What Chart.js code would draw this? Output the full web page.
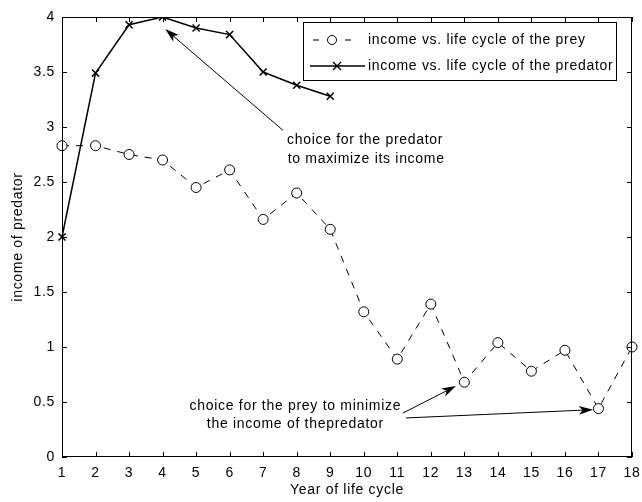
<!DOCTYPE html>
<html>
<head>
<meta charset="utf-8">
<script src="https://cdn.jsdelivr.net/npm/chart.js@4"></script>
<style>
  html, body { margin: 0; padding: 0; background: #fff; }
  #wrap { width: 642px; height: 502px; }
</style>
</head>
<body>
<div id="wrap"><canvas id="chart" width="642" height="502"></canvas></div>
<script>
// data
const years = ['1','2','3','4','5','6','7','8','9','10','11','12','13','14','15','16','17','18'];
const preyIncome = [2.83, 2.83, 2.75, 2.70, 2.45, 2.61, 2.16, 2.40, 2.07, 1.32, 0.89, 1.39, 0.68, 1.04, 0.78, 0.97, 0.44, 1.00];
const predatorIncome = [2.00, 3.49, 3.93, 4.00, 3.90, 3.84, 3.50, 3.38, 3.28];
const yTicks = [0, 0.5, 1, 1.5, 2, 2.5, 3, 3.5, 4];
const legendLabels = ['income vs. life cycle of the prey', 'income vs. life cycle of the predator'];

const FONT = 'Liberation Sans, Arial, Helvetica, sans-serif';
const FS = 14;

// arrow helper
function arrow(ctx, x1, y1, x2, y2, head) {
    const a = Math.atan2(y2 - y1, x2 - x1);
    ctx.beginPath();
    ctx.moveTo(x1, y1);
    ctx.lineTo(x2 - head * 0.5 * Math.cos(a), y2 - head * 0.5 * Math.sin(a));
    ctx.stroke();
    ctx.beginPath();
    ctx.moveTo(x2, y2);
    ctx.lineTo(x2 - head * Math.cos(a - 0.3), y2 - head * Math.sin(a - 0.3));
    ctx.lineTo(x2 - head * 0.7 * Math.cos(a), y2 - head * 0.7 * Math.sin(a));
    ctx.lineTo(x2 - head * Math.cos(a + 0.3), y2 - head * Math.sin(a + 0.3));
    ctx.closePath();
    ctx.fill();
}

// the reference text is slightly spread out
const spacingPlugin = {
    id: 'spacing',
    beforeUpdate(chart) { chart.ctx.letterSpacing = '0.7px'; },
    beforeDraw(chart) { chart.ctx.letterSpacing = '0.7px'; },
};

// axes box, inward ticks, legend and annotations
const decorPlugin = {
    id: 'decor',
    afterDraw(chart) {
        const ctx = chart.ctx;
        const area = chart.chartArea;
        const xs = chart.scales.x;
        const ys = chart.scales.y;
        ctx.save();
        ctx.strokeStyle = '#000';
        ctx.fillStyle = '#000';
        ctx.lineWidth = 1;
        ctx.strokeRect(area.left + 0.5, area.top + 0.5, area.right - area.left - 1, area.bottom - area.top - 1);

        const tl = 5;
        ctx.beginPath();
        years.forEach((_, i) => {
            const px = Math.round(xs.getPixelForValue(i)) + 0.5;
            ctx.moveTo(px, area.bottom); ctx.lineTo(px, area.bottom - tl);
            ctx.moveTo(px, area.top); ctx.lineTo(px, area.top + tl);
        });
        yTicks.forEach(v => {
            const py = Math.round(ys.getPixelForValue(v)) + 0.5;
            ctx.moveTo(area.left, py); ctx.lineTo(area.left + tl, py);
            ctx.moveTo(area.right, py); ctx.lineTo(area.right - tl, py);
        });
        ctx.stroke();

        // legend
        const lx = 303, ly = 22, lw = 313, lh = 58;
        ctx.fillStyle = '#fff';
        ctx.fillRect(lx, ly, lw, lh);
        ctx.strokeRect(lx + 0.5, ly + 0.5, lw, lh);
        ctx.fillStyle = '#000';
        ctx.font = FS + 'px ' + FONT;
        ctx.textBaseline = 'middle';
        ctx.textAlign = 'left';
        const rows = [ly + 18, ly + 44];
        // prey sample
        ctx.beginPath();
        ctx.moveTo(lx + 10, rows[0]); ctx.lineTo(lx + 16, rows[0]);
        ctx.moveTo(lx + 42, rows[0]); ctx.lineTo(lx + 48, rows[0]);
        ctx.stroke();
        ctx.beginPath();
        ctx.arc(lx + 29, rows[0], 4.5, 0, Math.PI * 2);
        ctx.stroke();
        ctx.fillText(legendLabels[0], lx + 65, rows[0]);
        // predator sample
        ctx.lineWidth = 1.3;
        ctx.beginPath();
        ctx.moveTo(lx + 7, rows[1]); ctx.lineTo(lx + 62, rows[1]);
        const cx = lx + 34, r = 4;
        ctx.moveTo(cx - r, rows[1] - r); ctx.lineTo(cx + r, rows[1] + r);
        ctx.moveTo(cx - r, rows[1] + r); ctx.lineTo(cx + r, rows[1] - r);
        ctx.stroke();
        ctx.fillText(legendLabels[1], lx + 65, rows[1]);
        ctx.lineWidth = 1;

        // annotations (positions in data units: category index, income)
        ctx.textAlign = 'left';
        ctx.fillText('choice for the predator', xs.getPixelForValue(6.71), ys.getPixelForValue(2.88));
        ctx.fillText('to maximize its income', xs.getPixelForValue(6.73), ys.getPixelForValue(2.71));
        ctx.textAlign = 'center';
        ctx.fillText('choice for the prey to minimize', xs.getPixelForValue(6.96), ys.getPixelForValue(0.46));
        ctx.fillText('the income of thepredator', xs.getPixelForValue(6.96), ys.getPixelForValue(0.30));

        arrow(ctx, xs.getPixelForValue(6.59), ys.getPixelForValue(2.97),
            xs.getPixelForValue(3.08), ys.getPixelForValue(3.89), 15);
        arrow(ctx, xs.getPixelForValue(10.17), ys.getPixelForValue(0.40),
            xs.getPixelForValue(11.75), ys.getPixelForValue(0.645), 15);
        arrow(ctx, xs.getPixelForValue(10.26), ys.getPixelForValue(0.355),
            xs.getPixelForValue(15.84), ys.getPixelForValue(0.43), 15);
        ctx.restore();
    }
};

const ctx = document.getElementById('chart').getContext('2d');
new Chart(ctx, {
    type: 'line',
    data: {
        labels: years,
        datasets: [
            {
                label: legendLabels[0],
                data: preyIncome,
                borderColor: '#000',
                borderWidth: 1,
                borderDash: [7, 7],
                pointStyle: 'circle',
                pointRadius: 5,
                pointBorderWidth: 1,
                pointBackgroundColor: '#fff',
                pointBorderColor: '#000',
                tension: 0,
            },
            {
                label: legendLabels[1],
                data: predatorIncome,
                borderColor: '#000',
                borderWidth: 1.5,
                pointStyle: 'crossRot',
                pointRadius: 5,
                pointBorderWidth: 1.5,
                pointBorderColor: '#000',
                tension: 0,
            },
        ],
    },
    options: {
        responsive: false,
        animation: false,
        layout: { padding: { left: 0, right: 10, top: 17, bottom: 0 } },
        plugins: {
            legend: { display: false },
            tooltip: { enabled: false },
        },
        scales: {
            x: {
                type: 'category',
                offset: false,
                grid: { display: false },
                border: { display: false },
                ticks: { color: '#000', font: { family: FONT, size: FS }, padding: 0, maxRotation: 0, autoSkip: false },
                title: { display: true, text: 'Year of life cycle', color: '#000', font: { family: FONT, size: FS }, padding: { top: 0, bottom: 3 } },
                afterFit: (s) => { s.height = 45; },
            },
            y: {
                min: 0,
                max: 4,
                grid: { display: false, drawTicks: false },
                border: { display: false },
                ticks: {
                    stepSize: 0.5,
                    color: '#000',
                    padding: 7,
                    font: { family: FONT, size: FS },
                    callback: (v) => String(v),
                },
                title: { display: true, text: 'income of predator', color: '#000', font: { family: FONT, size: FS }, padding: { top: 10, bottom: 0 } },
                afterFit: (s) => { s.width = 62; },
            },
        },
    },
    plugins: [spacingPlugin, decorPlugin],
});
</script>
</body>
</html>
